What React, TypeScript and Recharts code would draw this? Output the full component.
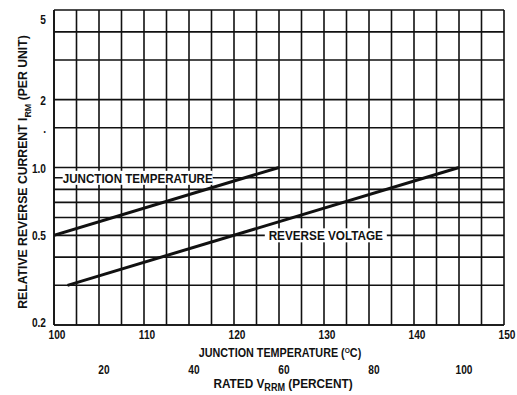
import React from "react";
import {
  LineChart,
  Line,
  XAxis,
  YAxis,
  CartesianGrid,
  ReferenceDot,
} from "recharts";

// Temperature axis (°C)
const tempTicks = [
  100, 102.5, 105, 107.5, 110, 112.5, 115, 117.5, 120, 122.5, 125, 127.5, 130,
  132.5, 135, 137.5, 140, 142.5, 145, 147.5, 150,
];
const tempLabels = [100, 110, 120, 130, 140, 150];

// Rated VRRM axis (percent)
const pctTicks = [20, 40, 60, 80, 100];

// Relative reverse current (log)
const currentTicks = [0.2, 0.3, 0.4, 0.5, 0.6, 0.7, 0.8, 0.9, 1.0, 1.5, 2, 3, 4, 5];
const currentLabelValues = [0.2, 0.5, 1.0, 1.5, 2, 5];
const currentLabelTexts = ["0.2", "0.5", "1.0", ".", "2", "5"];

// Series: junction temperature (x = °C)
const junctionTemp = [100, 125];
const junctionCurrent = [0.5, 1.0];

// Series: reverse voltage (x = percent of rated VRRM)
const reversePct = [13, 100];
const reverseCurrent = [0.3, 1.0];

// Curve labels
const junctionLabel = { x: 109.3, y: 0.9, text: "JUNCTION TEMPERATURE" };
const reverseLabel = { x: 130.2, y: 0.5, text: "REVERSE VOLTAGE" };

const junctionData = junctionTemp.map((x, i) => ({ x, y: junctionCurrent[i] }));
const reverseData = reversePct.map((x, i) => ({ x, y: reverseCurrent[i] }));

const FONT = "'Liberation Sans', Arial, sans-serif";
const INK = "#111";

const Narrow = ({ x, y, anchor = "middle", size = 13, sx = 0.78, rot = 0, children }: any) => (
  <text
    transform={`translate(${x},${y}) rotate(${rot}) scale(${sx},1)`}
    textAnchor={anchor}
    fontFamily={FONT}
    fontWeight="bold"
    fontSize={size}
    fill={INK}
  >
    {children}
  </text>
);

const TempTick = (props: any) => {
  const { x, y, payload } = props;
  if (!tempLabels.includes(payload.value)) return null;
  return (
    <Narrow x={x + 3} y={y + 6}>
      {payload.value}
    </Narrow>
  );
};

const PctTick = (props: any) => {
  const { x, y, payload } = props;
  return (
    <Narrow x={x + 5} y={y + 6}>
      {payload.value}
    </Narrow>
  );
};

const CurrentTick = (props: any) => {
  const { x, y, payload } = props;
  const idx = currentLabelValues.indexOf(payload.value);
  if (idx < 0) return null;
  const t = currentLabelTexts[idx];
  const dy = payload.value === 5 ? 14 : payload.value === 0.2 ? 2 : 5;
  return (
    <Narrow x={x} y={y + dy} anchor="end">
      {t}
    </Narrow>
  );
};

const makeLabelShape = (text: string, w: number, sx: number) => (p: any) => {
  const { cx, cy } = p;
  return (
    <g>
      <rect x={cx - w / 2} y={cy - 7} width={w} height={14} fill="#fff" />
      <Narrow x={cx} y={cy + 5} size={13.5} sx={sx}>
        {text}
      </Narrow>
    </g>
  );
};

const YTitle = () => (
  <Narrow x={27} y={172} rot={-90} sx={0.94}>
    RELATIVE REVERSE CURRENT I
    <tspan fontSize={9.5} dy={4}>RM</tspan>
    <tspan dy={-4}> (PER UNIT)</tspan>
  </Narrow>
);

const XTitle1 = () => (
  <Narrow x={280} y={357} sx={0.83}>
    JUNCTION TEMPERATURE (
    <tspan fontSize={8} dy={-4}>O</tspan>
    <tspan dy={4}>C)</tspan>
  </Narrow>
);

const XTitle2 = () => (
  <Narrow x={283} y={388} sx={0.91}>
    RATED V
    <tspan fontSize={10} dy={3}>RRM</tspan>
    <tspan dy={-3}> (PERCENT)</tspan>
  </Narrow>
);

export default function App() {
  return (
    <div style={{ position: "absolute", left: 0, top: 0, background: "#fff" }}>
      <LineChart
        width={517}
        height={395}
        margin={{ top: 10, right: 13, left: 0, bottom: 0 }}
      >
        <CartesianGrid stroke={INK} strokeWidth={1.6} />
        <XAxis
          xAxisId={0}
          dataKey="x"
          type="number"
          domain={[100, 150]}
          ticks={tempTicks}
          allowDataOverflow
          interval={0}
          height={35}
          tickLine={false}
          axisLine={{ stroke: INK, strokeWidth: 1.6 }}
          tick={<TempTick />}
          label={{ content: () => <XTitle1 /> }}
        />
        <XAxis
          xAxisId="v"
          dataKey="x"
          type="number"
          domain={[10, 110]}
          ticks={pctTicks}
          allowDataOverflow
          interval={0}
          height={35}
          tickLine={false}
          axisLine={false}
          tick={<PctTick />}
          label={{ content: () => <XTitle2 /> }}
        />
        <YAxis
          type="number"
          scale="log"
          domain={[0.2, 5]}
          ticks={currentTicks}
          allowDataOverflow
          interval={0}
          width={54}
          tickLine={false}
          axisLine={{ stroke: INK, strokeWidth: 1.6 }}
          tick={<CurrentTick />}
          label={{ content: () => <YTitle /> }}
        />
        <ReferenceDot
          x={junctionLabel.x}
          y={junctionLabel.y}
          shape={makeLabelShape(junctionLabel.text, 150, 0.86)}
        />
        <ReferenceDot
          x={reverseLabel.x}
          y={reverseLabel.y}
          shape={makeLabelShape(reverseLabel.text, 122, 0.87)}
        />
        <Line
          data={junctionData}
          dataKey="y"
          xAxisId={0}
          type="linear"
          stroke={INK}
          strokeWidth={3}
          dot={false}
          isAnimationActive={false}
        />
        <Line
          data={reverseData}
          dataKey="y"
          xAxisId="v"
          type="linear"
          stroke={INK}
          strokeWidth={3}
          dot={false}
          isAnimationActive={false}
        />
      </LineChart>
    </div>
  );
}
